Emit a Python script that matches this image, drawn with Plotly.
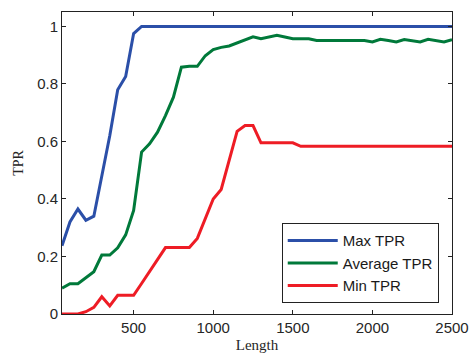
import plotly.graph_objects as go

length = [50, 100, 150, 200, 250, 300, 350, 400, 450, 500,
          550, 600, 650, 700, 750, 800, 850, 900, 950, 1000,
          1050, 1100, 1150, 1200, 1250, 1300, 1350, 1400, 1450, 1500,
          1550, 1600, 1650, 1700, 1750, 1800, 1850, 1900, 1950, 2000,
          2050, 2100, 2150, 2200, 2250, 2300, 2350, 2400, 2450, 2500]

max_tpr = [0.237, 0.32, 0.365, 0.326, 0.34, 0.48, 0.62, 0.78, 0.826, 0.975,
           1.0, 1.0, 1.0, 1.0, 1.0, 1.0, 1.0, 1.0, 1.0, 1.0,
           1.0, 1.0, 1.0, 1.0, 1.0, 1.0, 1.0, 1.0, 1.0, 1.0,
           1.0, 1.0, 1.0, 1.0, 1.0, 1.0, 1.0, 1.0, 1.0, 1.0,
           1.0, 1.0, 1.0, 1.0, 1.0, 1.0, 1.0, 1.0, 1.0, 1.0]

avg_tpr = [0.09, 0.105, 0.105, 0.127, 0.147, 0.205, 0.205, 0.23, 0.275, 0.36,
           0.563, 0.592, 0.632, 0.69, 0.754, 0.858, 0.861, 0.861, 0.898, 0.919,
           0.927, 0.932, 0.942, 0.952, 0.964, 0.957, 0.963, 0.969, 0.963, 0.957,
           0.957, 0.957, 0.951, 0.951, 0.951, 0.951, 0.951, 0.951, 0.951, 0.946,
           0.955, 0.951, 0.946, 0.954, 0.95, 0.946, 0.955, 0.951, 0.946, 0.954]

min_tpr = [0.0, 0.0, 0.0, 0.008, 0.023, 0.06, 0.028, 0.065, 0.065, 0.065,
           0.106, 0.148, 0.19, 0.231, 0.231, 0.231, 0.231, 0.263, 0.335, 0.40,
           0.433, 0.53, 0.635, 0.655, 0.655, 0.595, 0.595, 0.595, 0.595, 0.595,
           0.583, 0.583, 0.583, 0.583, 0.583, 0.583, 0.583, 0.583, 0.583, 0.583,
           0.583, 0.583, 0.583, 0.583, 0.583, 0.583, 0.583, 0.583, 0.583, 0.583]

x_ticks = [500, 1000, 1500, 2000, 2500]
y_ticks = [0, 0.2, 0.4, 0.6, 0.8, 1]
y_tick_text = ["0", "0.2", "0.4", "0.6", "0.8", "1"]

series = [
    ("Max TPR", max_tpr, "#2B4FA8"),
    ("Average TPR", avg_tpr, "#00793A"),
    ("Min TPR", min_tpr, "#EE1C25"),
]

fig = go.Figure()
for name, vals, color in series:
    fig.add_trace(go.Scatter(x=length, y=vals, mode="lines", name=name,
                             line=dict(color=color, width=3)))

axis_common = dict(showline=True, mirror="ticks", linecolor="#222222", linewidth=1,
                   ticks="inside", ticklen=4, tickcolor="#222222", showgrid=False,
                   zeroline=False, automargin=False,
                   tickfont=dict(family="Liberation Sans, Arial", size=15, color="#262626"))

fig.update_layout(
    width=471, height=356,
    margin=dict(l=62, r=19, t=12, b=42),
    paper_bgcolor="white", plot_bgcolor="white",
    xaxis=dict(range=[50, 2500], tickvals=x_ticks,
               title=dict(text="Length", standoff=4,
                          font=dict(family="Liberation Serif, Times New Roman", size=15, color="#262626")),
               **axis_common),
    yaxis=dict(range=[0, 1.05], tickvals=y_ticks, ticktext=y_tick_text,
               title=dict(text="TPR", standoff=10,
                          font=dict(family="Liberation Serif, Times New Roman", size=14, color="#262626")),
               **axis_common),
    legend=dict(x=0.966, y=0.036, xanchor="right", yanchor="bottom",
                bgcolor="white", bordercolor="#222222", borderwidth=1,
                font=dict(family="Liberation Sans, Arial", size=15, color="#1a1a1a"),
                itemwidth=50, tracegroupgap=0),
    showlegend=True,
)

fig.write_html(
    "out.html",
    config={"displayModeBar": False},
    post_script="document.body.style.margin='0';document.body.style.overflow='hidden';",
)
